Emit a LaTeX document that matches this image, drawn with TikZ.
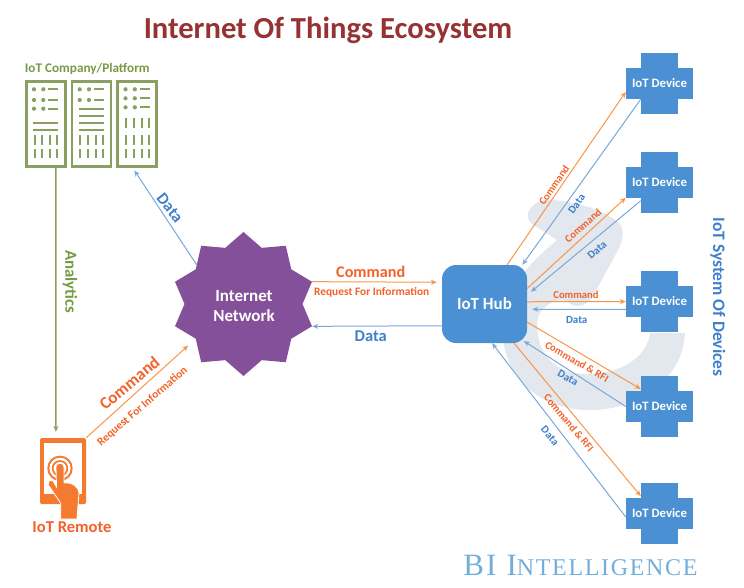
\documentclass[tikz,border=0pt]{standalone}
\usepackage{fontspec}
\setmainfont{Carlito}
\newfontfamily\biserif[LetterSpace=7]{Liberation Serif}
\usetikzlibrary{shapes.geometric,arrows.meta}

\definecolor{hubblue}{HTML}{4A90D2}
\definecolor{lineblue}{HTML}{79A8D8}
\definecolor{textblue}{HTML}{3F7FCC}
\definecolor{lineorange}{HTML}{F79646}
\definecolor{iconorange}{HTML}{F47A30}
\definecolor{textorange}{HTML}{F2622A}
\definecolor{rackgreen}{HTML}{8AA060}
\definecolor{textgreen}{HTML}{779A45}
\definecolor{titlered}{HTML}{973234}
\definecolor{netpurple}{HTML}{84509A}
\definecolor{swirlgray}{HTML}{E3E7EE}
\definecolor{biblue}{HTML}{72AEDC}

\tikzset{
  every node/.style={font=\bfseries,inner sep=0pt},
  cmd/.style={draw=lineorange,line width=1pt,-{Stealth[length=6pt,width=5pt]}},
  dat/.style={draw=lineblue,line width=1pt,-{Stealth[length=6pt,width=5pt]}},
  cmdlabel/.style={text=textorange,font=\bfseries\fontsize{10.6}{10.6}\selectfont},
  datlabel/.style={text=textblue,font=\bfseries\fontsize{11}{11}\selectfont},
  device/.style={fill=hubblue,text=white,minimum width=67pt,minimum height=31pt,font=\bfseries\fontsize{12.8}{12.8}\selectfont},
  devarm/.style={fill=hubblue,minimum width=37pt,minimum height=61pt},
  rack/.style={draw=rackgreen,line width=2.7pt,minimum width=39pt,minimum height=85pt},
  rackbit/.style={draw=rackgreen,line width=2pt},
  rackdot/.style={fill=rackgreen}
}

\newcommand{\rackrow}[2]{% x offset, y
  \fill[rackdot,shift={(#1,#2)}] (34,0) circle (2.1) (43.3,0) circle (2.1);
  \draw[rackbit,shift={(#1,#2)}] (48.3,0) -- (58.3,0);
}
\newcommand{\rackline}[2]{\draw[rackbit,shift={(#1,#2)}] (33.3,0) -- (58.3,0);}
\newcommand{\rackbars}[3]{% x offset, y from, y to
  \foreach \x in {34.7,42.3,50,57.3}
    \draw[rackbit,shift={(#1,0)}] (\x,#2) -- (\x,#3);
}

\begin{document}
\begin{tikzpicture}[x=1pt,y=-1pt]
  \useasboundingbox (0,0) rectangle (744,587);

  % swirl behind the hub
  \fill[swirlgray] (528,213) .. controls (532,203) and (542,199) .. (553,200)
    .. controls (580,202) and (608,212) .. (620,224)
    .. controls (625,232) and (622,242) .. (618,250)
    -- (592,298) .. controls (587,306) and (575,309) .. (568,302)
    .. controls (560,296) and (538,305) .. (537,323)
    .. controls (537,355) and (555,374) .. (587,374)
    .. controls (620,374) and (647,358) .. (650,333)
    -- (685,333) .. controls (683,378) and (640,410) .. (590,410)
    .. controls (545,410) and (510,385) .. (503,340)
    .. controls (497,305) and (515,275) .. (557,240)
    -- (532,224) .. controls (529,222) and (527,218) .. (528,213) -- cycle;

  \node [text=titlered,font=\bfseries\fontsize{30.6}{30.6}\selectfont] (title) at (328,30) {Internet Of Things Ecosystem};

  % servers
  \node [text=textgreen,font=\bfseries\fontsize{13.2}{13.2}\selectfont] (company) at (87.3,69) {IoT Company/Platform};
  \node [rack] (s1) at (45.8,124) {};
  \node [rack] (s2) at (91.5,124) {};
  \node [rack] (s3) at (137.3,124) {};
  \foreach \y in {89.3,100,108.7} {\rackrow{0}{\y}}
  \foreach \y in {122.7,130} {\rackline{0}{\y}}
  \rackbars{0}{135}{145} \rackbars{0}{149}{158.3}
  \foreach \y in {89.3,100} {\rackrow{45.7}{\y}}
  \foreach \y in {108.7,115.7,122.7,130} {\rackline{45.7}{\y}}
  \rackbars{45.7}{135}{145} \rackbars{45.7}{149}{158.3}
  \foreach \y in {89.3,98.3,107.3} {\rackrow{91.5}{\y}}
  \rackbars{91.5}{117.7}{128.3} \rackbars{91.5}{135}{145} \rackbars{91.5}{149}{158.3}

  % remote
  \node [fill=iconorange,rounded corners=1.5pt,minimum width=46pt,minimum height=66pt] (remote) at (63,471) {};
  \fill[white] (44,443.3) rectangle (81.7,494);
  \fill[iconorange] (60,468.3) circle (12.7);
  \fill[white] (60,468.3) circle (10.6);
  \fill[iconorange] (60,468.3) circle (8.2);
  \fill[white] (60,468.3) circle (6.3);
  \filldraw[fill=iconorange,draw=white,line width=.8pt] (56,467) .. controls (56,462) and (64,462) .. (64,467)
    -- (64,483) .. controls (72,482) and (79,487) .. (79,493)
    -- (78,505) -- (77,519) -- (60.7,519) -- (60.7,503) -- (48.3,485)
    .. controls (47.5,481) and (51,479) .. (53,481) -- (56.5,487) -- cycle;
  \node [text=textorange,font=\bfseries\fontsize{16.6}{16.6}\selectfont] (remotelabel) at (72,527) {IoT Remote};

  % centre
  \node [star,star points=10,star point ratio=1.22,minimum size=144pt,fill=netpurple] (net) at (243.5,304) {};
  \node [text=white,align=center,font=\bfseries\fontsize{17}{20}\selectfont] (netlabel) at (244,306) {Internet\\Network};
  \node [fill=hubblue,rounded corners=14pt,minimum width=85pt,minimum height=78pt,text=white,font=\bfseries\fontsize{17}{17}\selectfont] (hub) at (484.5,304) {IoT Hub};

  % devices
  \foreach \name/\y in {d1/83.5,d2/182,d3/301.5,d4/406.5,d5/513.5} {
    \node [devarm] (\name arm) at (659.5,\y) {};
    \node [device] (\name) at (659.5,\y) {IoT Device};
  }

  % connectors
  \foreach \from/\to in {hub.60/d1.194,hub.20/d2.south west,hub.3/d3.west,hub.337/d4arm.137,hub.307/d5arm.137}
    \draw[cmd] (\from) -- (\to);
  \foreach \from/\to in {d1arm.220/hub.46,d5.186/hub.281}
    \draw[dat] (\from) -- (\to);
  \draw[dat,shorten >=5pt] (d2arm.225) -- (hub.12);
  \draw[dat,shorten >=5pt] (d3.193) -- (hub.353);
  \draw[dat,shorten >=-4pt] (d4.west) -- (hub.south east);
  \draw[cmd,shorten >=5pt] (net.18) -- (hub.153);
  \draw[dat] (hub.207) -- (net.-18);
  \draw[dat,shorten >=3pt] (net.140) -- (s3.264);
  \draw[cmd,shorten >=10pt] (remote.north east) -- (net.216);
  \draw[draw=rackgreen,line width=1.5pt,-{Stealth[length=6pt,width=5pt]},shorten >=6pt] (s1.283) -- (remote.102);

  % labels
  \node [text=textorange,font=\bfseries\fontsize{16.2}{16.2}\selectfont] (netcmd) at (370.7,271.7) {Command};
  \node [text=textorange,font=\bfseries\fontsize{11.4}{11.4}\selectfont] (netrfi) at (371.7,292.7) {Request For Information};
  \node [text=textblue,font=\bfseries\fontsize{16.5}{16.5}\selectfont] (netdata) at (370.7,336.7) {Data};
  \node [text=textblue,rotate=-52,font=\bfseries\fontsize{16.5}{16.5}\selectfont] (rackdata) at (170,208) {Data};
  \node [text=textgreen,rotate=-90,font=\bfseries\fontsize{16.8}{16.8}\selectfont] (analytics) at (70,281.7) {Analytics};
  \node [text=textorange,rotate=40,font=\bfseries\fontsize{17}{17}\selectfont] (remcmd) at (129.3,383) {Command};
  \node [text=textorange,rotate=41,font=\bfseries\fontsize{11.4}{11.4}\selectfont] (remrfi) at (142.5,406.5) {Request For Information};
  \node [cmdlabel,rotate=55] (c1) at (554,185) {Command};
  \node [datlabel,rotate=55] (l1) at (576.7,204) {Data};
  \node [cmdlabel,rotate=42] (c2) at (583,225.7) {Command};
  \node [datlabel,rotate=42] (l2) at (597,250) {Data};
  \node [cmdlabel] (c3) at (576,295) {Command};
  \node [datlabel] (l3) at (576.7,320) {Data};
  \node [cmdlabel,rotate=-30] (c4) at (577,361.7) {Command \& RFI};
  \node [datlabel,rotate=-30] (l4) at (568,378) {Data};
  \node [cmdlabel,rotate=-50] (c5) at (569,422.7) {Command \& RFI};
  \node [datlabel,rotate=-50] (l5) at (550,435.7) {Data};
  \node [text=textblue,rotate=-90,font=\bfseries\fontsize{17.5}{17.5}\selectfont] (system) at (718,297) {IoT System Of Devices};
  \node [text=biblue,font=\biserif\mdseries\fontsize{31}{31}\selectfont] (bi) at (580.5,565) {BI I{\fontsize{24}{24}\selectfont NTELLIGENCE}};
\end{tikzpicture}
\end{document}
